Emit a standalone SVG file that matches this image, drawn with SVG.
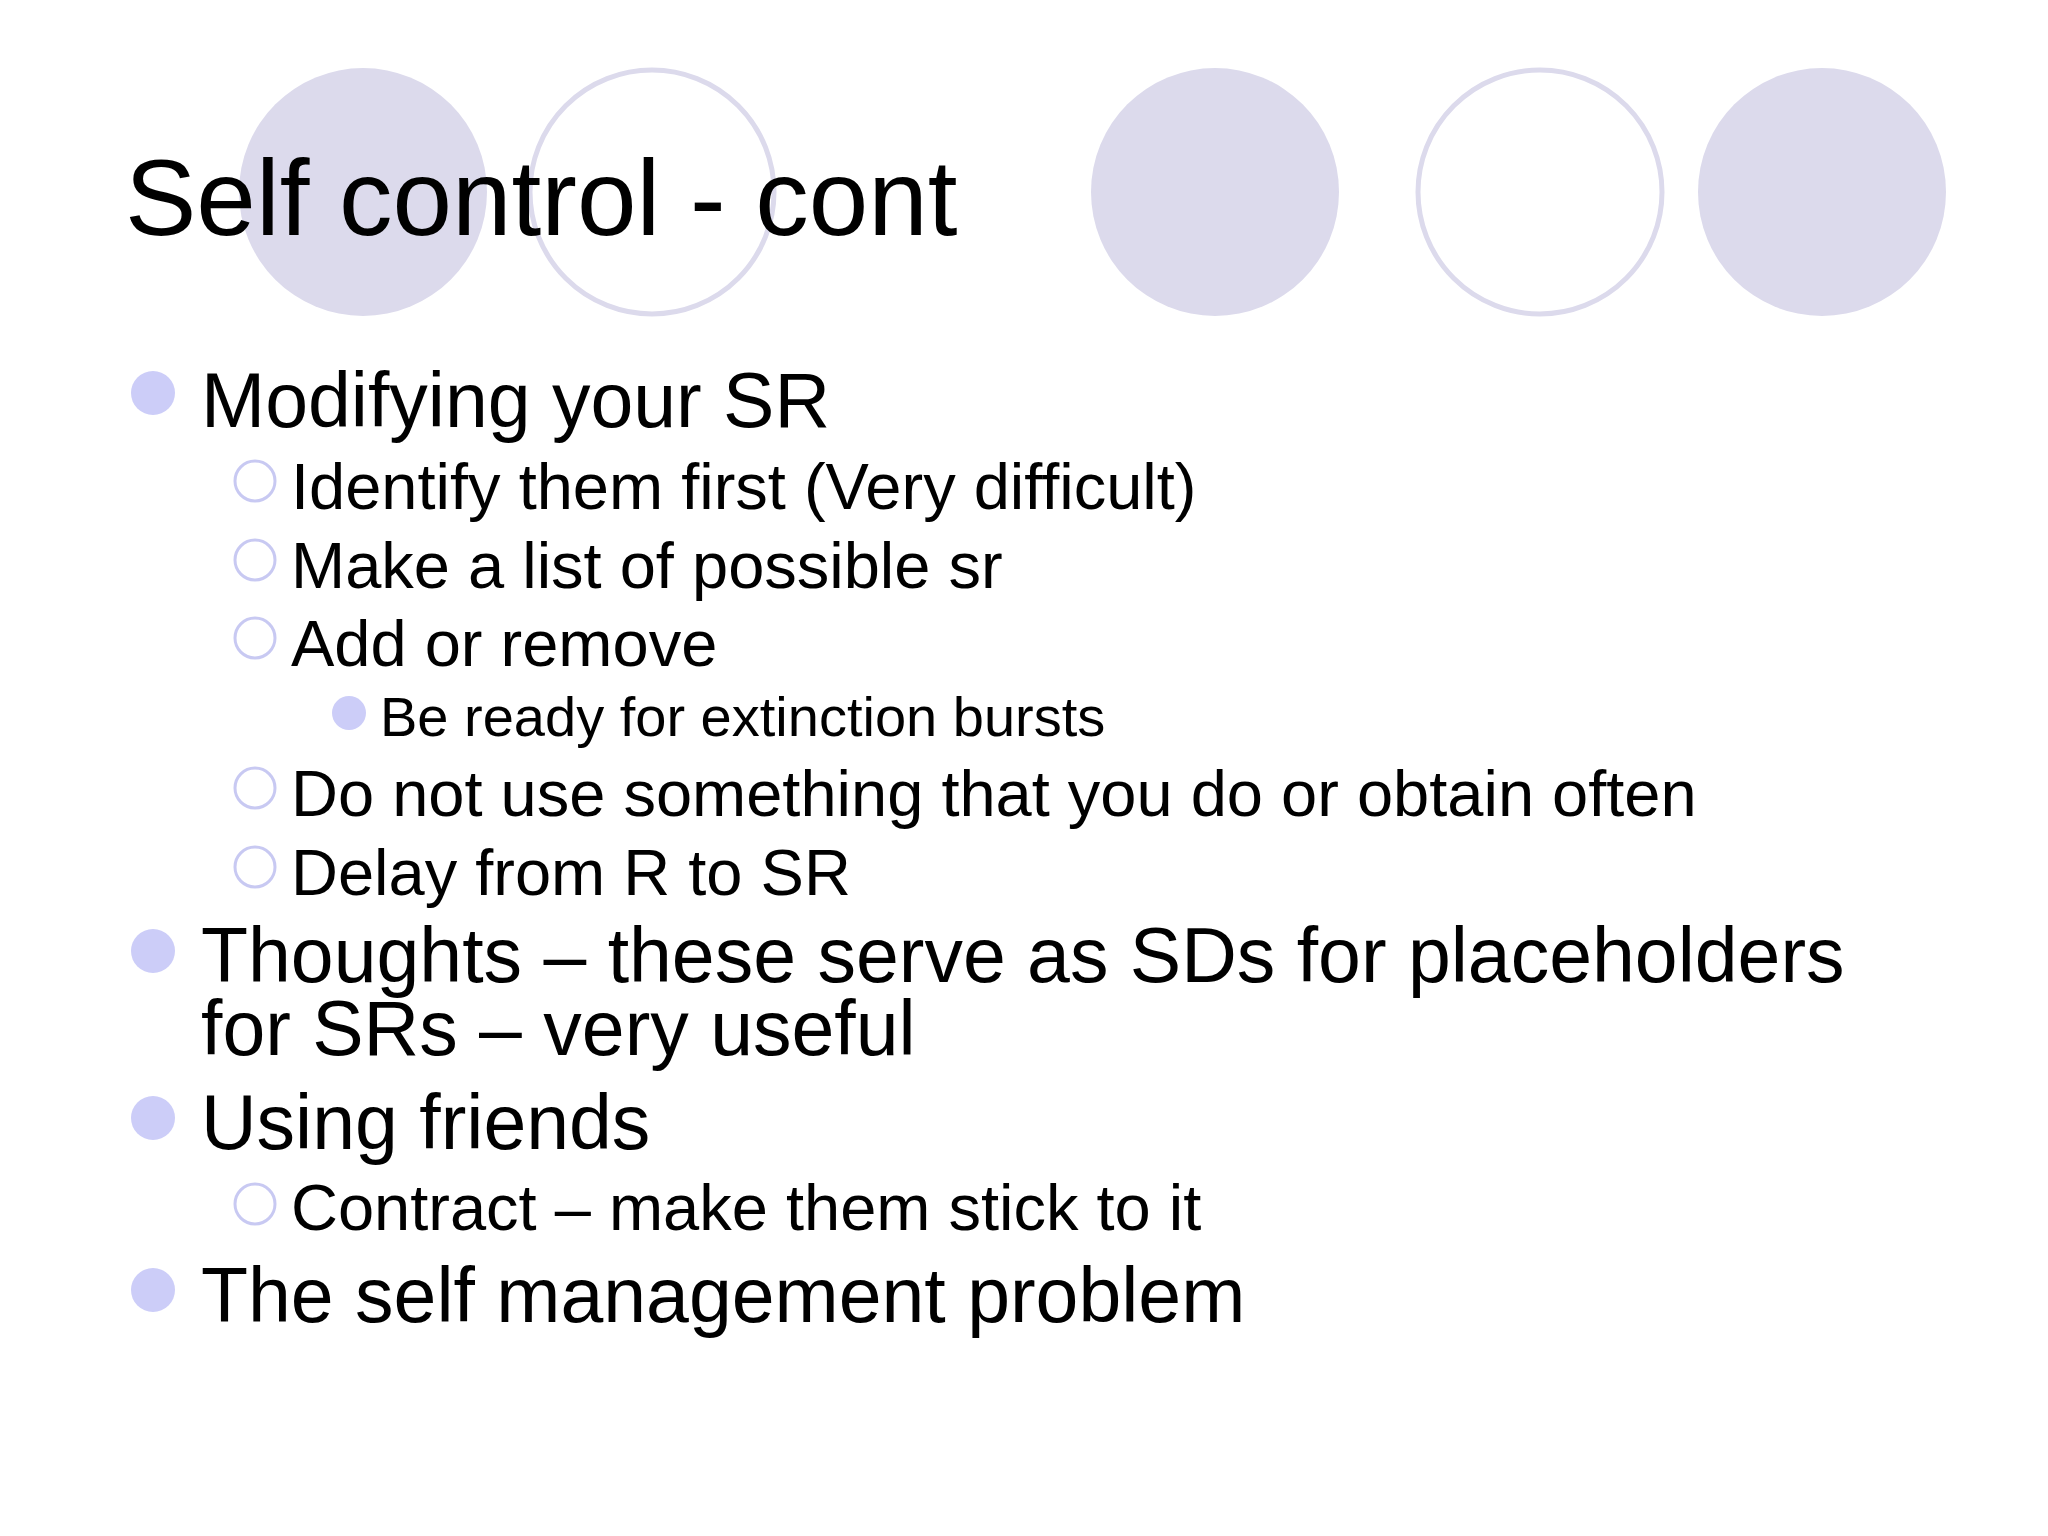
<svg xmlns="http://www.w3.org/2000/svg" width="2048" height="1536" viewBox="0 0 2048 1536">
<style>
text{font-family:"Liberation Sans",Arial,sans-serif;fill:#000}
.deco{fill:#dcdaec}
.ring{fill:#fff;stroke:#dcdaec;stroke-width:5}
.b1{fill:#cccdf8}
.b2{fill:#fff;stroke:#c8c9f2;stroke-width:3}
.t1{font-size:77px}
.t2{font-size:65px}
.t3{font-size:56px}
</style>
<rect width="2048" height="1536" fill="#fff"/>
<g id="decor">
<circle class="deco" cx="363" cy="192" r="124"/>
<circle class="ring" cx="652" cy="192" r="122"/>
<circle class="deco" cx="1215" cy="192" r="124"/>
<circle class="ring" cx="1540" cy="192" r="122"/>
<circle class="deco" cx="1822" cy="192" r="124"/>
</g>
<g id="title"><text x="125" y="235" font-size="107">Self control - cont</text></g>
<g id="bullets">
<circle class="b1" cx="153" cy="393" r="22"/><text class="t1" x="201" y="427">Modifying your SR</text>
<circle class="b2" cx="255" cy="481" r="20"/><text class="t2" x="291" y="509">Identify them first (Very difficult)</text>
<circle class="b2" cx="255" cy="560" r="20"/><text class="t2" x="291" y="588">Make a list of possible sr</text>
<circle class="b2" cx="255" cy="638" r="20"/><text class="t2" x="291" y="666">Add or remove</text>
<circle class="b1" cx="349" cy="713" r="17"/><text class="t3" x="380" y="736">Be ready for extinction bursts</text>
<circle class="b2" cx="255" cy="788" r="20"/><text class="t2" x="291" y="816">Do not use something that you do or obtain often</text>
<circle class="b2" cx="255" cy="867" r="20"/><text class="t2" x="291" y="895">Delay from R to SR</text>
<circle class="b1" cx="153" cy="951" r="22"/><text class="t1" x="201" y="982">Thoughts – these serve as SDs for placeholders</text>
<text class="t1" x="201" y="1055">for SRs – very useful</text>
<circle class="b1" cx="153" cy="1118" r="22"/><text class="t1" x="201" y="1149">Using friends</text>
<circle class="b2" cx="255" cy="1204" r="20"/><text class="t2" x="291" y="1230">Contract – make them stick to it</text>
<circle class="b1" cx="153" cy="1290" r="22"/><text class="t1" x="201" y="1322">The self management problem</text>
</g>
</svg>
